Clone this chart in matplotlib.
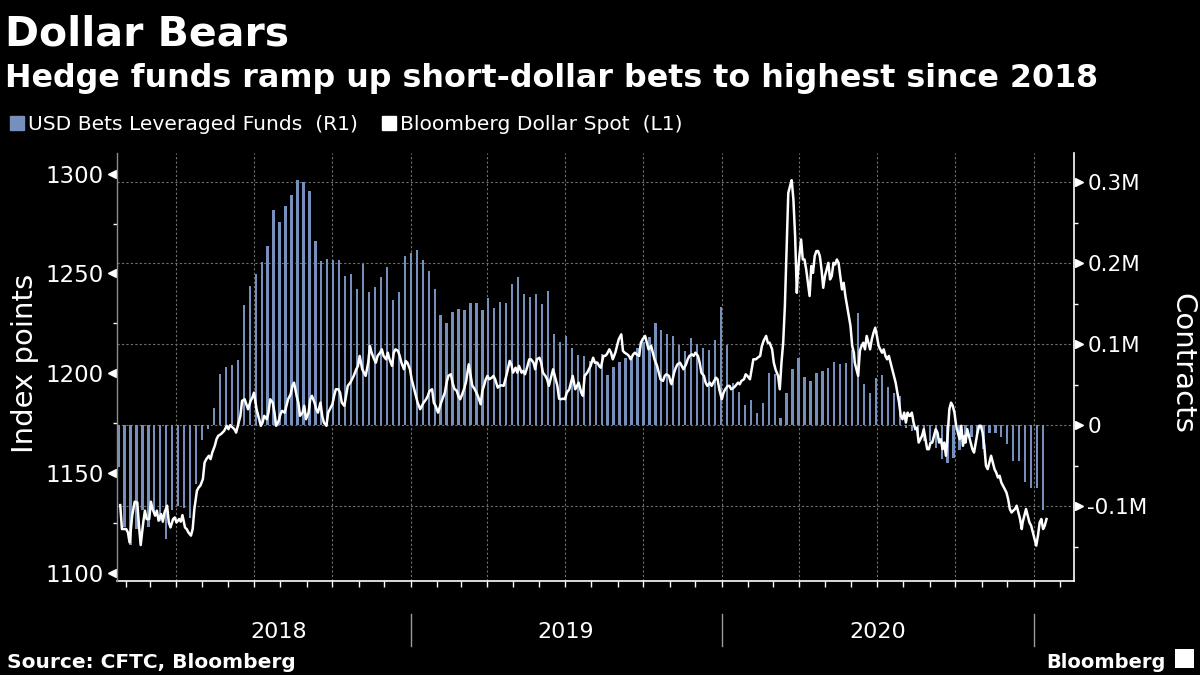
import pandas as pd
import matplotlib
matplotlib.use("Agg")
import matplotlib.pyplot as plt
import matplotlib.dates as mdates
from matplotlib.transforms import blended_transform_factory
from matplotlib.lines import Line2D
from matplotlib.patches import Rectangle

# Weekly CFTC net USD position of leveraged funds (thousands of contracts),
# first report 2018-01-23, then every Tuesday
bet_start = "2018-01-23"
usd_bets_k = [
    -52, -125, -148, -128, -105, -125, -110, -118, -140, -105,
    -100, -102, -115, -72, -18, -4, 21, 63, 72, 74,
    81, 149, 172, 187, 202, 221, 266, 251, 271, 284,
    303, 301, 289, 228, 203, 205, 204, 204, 184, 187,
    168, 199, 165, 171, 183, 195, 155, 165, 209, 213,
    216, 204, 190, 168, 136, 126, 140, 144, 142, 151,
    151, 142, 157, 145, 152, 151, 174, 183, 162, 158,
    162, 150, 166, 113, 103, 110, 95, 87, 86, 80,
    80, 88, 62, 72, 78, 83, 86, 95, 103, 109,
    126, 118, 113, 110, 99, 92, 108, 100, 95, 93,
    105, 146, 99, 52, 41, 25, 31, 15, 28, 65,
    63, 9, 40, 70, 83, 60, 55, 65, 67, 71,
    78, 76, 77, 93, 139, 51, 40, 58, 62, 47,
    40, 36, -3, -7, -12, -19, -19, -28, -42, -47,
    -40, -30, -18, -14, -10, -29, -9, -10, -15, -23,
    -44, -44, -70, -78, -77, -104,
]

# Bloomberg Dollar Spot index:
# day number counted from 2018-01-01, and index level
spot_day = [
    24, 26, 31, 33, 35, 38, 41, 44, 46, 48, 51, 53, 55, 58, 60, 62, 65, 67, 69, 72,
    74, 76, 79, 81, 83, 86, 88, 90, 93, 95, 97, 100, 102, 104, 107, 109, 111, 114, 116, 118,
    121, 123, 125, 128, 130, 132, 135, 137, 139, 142, 144, 146, 149, 151, 153, 156, 158, 160, 163, 165,
    167, 170, 172, 174, 177, 179, 181, 184, 186, 189, 191, 193, 196, 198, 200, 203, 205, 207, 210, 212,
    214, 217, 219, 221, 224, 226, 228, 231, 233, 235, 238, 240, 242, 245, 247, 249, 252, 254, 256, 259,
    261, 263, 266, 268, 270, 273, 275, 277, 280, 282, 284, 287, 289, 291, 294, 296, 298, 301, 303, 305,
    308, 310, 312, 315, 317, 319, 322, 324, 326, 329, 331, 333, 336, 338, 340, 343, 345, 347, 350, 352,
    354, 357, 359, 361, 364, 366, 368, 371, 373, 376, 378, 380, 383, 385, 387, 390, 392, 394, 397,
    400, 402, 405, 407, 409, 412, 414, 416, 419, 421, 423, 426, 428, 430, 433, 435, 437, 440, 442, 444,
    447, 449, 451,
    453, 455, 457, 460, 462, 464, 467, 469, 471, 474, 476, 478, 481, 483, 485, 488, 490, 492, 495, 497,
    499, 502, 504, 506, 509, 511, 513, 516, 518, 520, 523, 525, 527, 530, 532, 534, 537, 539, 541, 544,
    546, 548, 551, 553, 555, 558, 560, 562, 565, 567, 569, 572, 574, 576, 579, 581, 584, 586, 588, 591,
    593, 595, 598, 600, 602, 605, 607, 609, 612, 614, 616, 619, 621, 623, 626, 628, 630, 633, 635, 637,
    640, 642, 644, 647, 649, 651, 654, 656, 658, 661, 663, 665, 668, 670,
    671, 674, 676, 678, 681, 683, 685, 688, 690, 692, 695, 697, 699, 702, 704, 706, 709, 711, 713, 716,
    718, 720, 723, 725, 727, 730, 732,
    734, 737, 739, 741, 744, 746, 749, 751, 753, 756, 758, 760, 763, 765, 767, 770, 772, 775, 777, 779,
    782, 784, 786, 789, 791, 793, 796, 798,
    800, 802, 804, 806, 808, 810, 812, 814, 816, 818, 819, 821, 823, 825, 827, 829, 831, 833, 835, 837,
    839, 841, 843, 845, 847, 849, 851, 853, 855, 857, 859, 861, 863, 865, 867, 869, 871, 873, 875, 877,
    879, 881, 883, 885, 886, 888, 890, 892, 894, 896, 898, 900, 902, 904, 906, 908, 910, 912, 914, 916,
    918, 920, 922, 924, 926, 928, 930, 932, 934, 936, 938, 940, 942, 944, 946, 948, 950, 951, 953, 955,
    957, 959, 961, 963, 965, 967, 969, 971, 973, 975, 977, 979, 981, 983, 985, 987, 989, 991, 993, 995,
    997, 999, 1001, 1003, 1005, 1007, 1009, 1011, 1013, 1015, 1016, 1018, 1020, 1022, 1024, 1026, 1028, 1030, 1032, 1034,
    1036, 1038, 1040, 1042, 1044, 1046, 1048, 1050, 1052, 1054, 1056, 1058, 1060, 1062, 1064, 1066, 1068, 1070, 1072, 1074,
    1076, 1078, 1080, 1082, 1083, 1085, 1087, 1089, 1091, 1093, 1095, 1097, 1099, 1101, 1103, 1105, 1107, 1109, 1111,
]
spot_level = [
    1134.0, 1122.0, 1122.0, 1120.3, 1115.3, 1128.7, 1135.7, 1135.3, 1123.7, 1114.0,
    1125.3, 1131.2, 1127.0, 1127.0, 1135.7, 1132.0, 1128.7, 1131.2, 1126.2, 1129.5,
    1125.7, 1130.3, 1133.7, 1125.3, 1122.8, 1127.0, 1127.8, 1125.3, 1127.0, 1125.7,
    1129.0, 1122.8, 1122.0, 1120.3, 1118.7, 1122.0, 1132.0, 1141.2, 1142.8, 1143.7,
    1147.0, 1155.3, 1157.0, 1158.7, 1157.0, 1160.3, 1163.7, 1167.0, 1168.7, 1169.5,
    1170.3, 1171.2, 1173.7, 1172.0, 1174.0, 1172.8, 1172.0, 1170.3, 1175.3, 1178.7,
    1186.2, 1187.0, 1184.5, 1182.0, 1186.2, 1187.8, 1190.3, 1182.0, 1178.7, 1173.7,
    1175.3, 1178.7, 1177.0, 1180.3, 1187.0, 1185.3, 1180.3, 1173.7, 1176.2, 1179.5,
    1181.2, 1180.3, 1183.7, 1187.0, 1189.5, 1193.7, 1195.3, 1188.7, 1185.3, 1178.7,
    1180.3, 1183.7, 1177.0, 1180.3, 1187.0, 1188.7, 1185.3, 1182.0, 1180.3, 1185.3,
    1178.7, 1175.3, 1173.7, 1180.3, 1182.0, 1184.5, 1188.7, 1192.0, 1192.0, 1190.3,
    1185.3, 1183.7, 1188.7, 1193.7, 1195.3, 1197.0, 1198.7, 1202.0, 1203.7, 1208.7,
    1202.0, 1200.3, 1198.7, 1205.3, 1213.7, 1210.3, 1207.0, 1205.3, 1208.7, 1210.3,
    1212.0, 1208.7, 1207.0, 1210.3, 1207.0, 1203.7, 1210.3, 1212.0, 1211.2, 1208.7,
    1205.3, 1202.0, 1206.2, 1205.3, 1202.0, 1197.0, 1193.7, 1188.7, 1185.3, 1182.0,
    1183.7, 1185.3, 1187.0, 1188.7, 1191.2, 1192.0, 1185.3, 1183.7, 1180.3,
    1184.5, 1187.0, 1190.3, 1195.3, 1198.7, 1199.5, 1195.3, 1192.3, 1191.2, 1188.3,
    1187.0, 1190.3, 1192.8, 1196.2, 1204.5, 1199.5, 1194.0, 1192.0, 1190.3, 1188.3,
    1184.5, 1191.2, 1194.0,
    1197.0, 1198.7, 1197.0, 1197.8, 1198.7, 1197.0, 1192.8, 1193.7, 1194.0, 1193.7,
    1197.0, 1200.3, 1206.2, 1204.5, 1200.3, 1202.8, 1200.3, 1203.7, 1200.3, 1201.2,
    1199.5, 1203.7, 1207.0, 1207.0, 1205.3, 1202.0, 1207.0, 1207.8, 1205.3, 1200.3,
    1198.7, 1197.0, 1193.7, 1198.7, 1202.0, 1198.7, 1193.7, 1187.3, 1187.0, 1187.3,
    1187.0, 1190.3, 1192.0, 1195.3, 1198.7, 1192.0, 1193.7, 1195.3, 1190.3, 1188.7,
    1198.7, 1200.3, 1202.0, 1203.7, 1207.8, 1205.3, 1205.3, 1203.7, 1202.8, 1208.7,
    1208.7, 1209.5, 1212.0, 1210.3, 1207.0, 1210.3, 1213.7, 1217.0, 1219.5, 1211.2,
    1210.3, 1209.5, 1208.7, 1207.0, 1209.5, 1210.3, 1209.5, 1208.7, 1215.3, 1217.0,
    1218.7, 1215.3, 1212.0, 1213.7, 1210.3, 1207.0, 1203.7, 1200.3, 1197.0, 1196.2,
    1198.7, 1199.5, 1198.7, 1195.3,
    1194.5, 1200.3, 1202.8, 1204.5, 1205.3, 1203.7, 1202.0, 1204.5, 1207.0, 1208.7,
    1209.5, 1208.7, 1210.3, 1208.7, 1205.3, 1200.3, 1198.7, 1195.3, 1193.7, 1195.3,
    1193.7, 1195.3, 1197.8, 1197.0, 1192.0, 1187.0, 1190.3,
    1192.0, 1193.7, 1193.7, 1192.0, 1192.8, 1193.7, 1195.3, 1194.5, 1196.2, 1197.0,
    1199.5, 1198.7, 1197.0, 1202.0, 1207.0, 1207.0, 1207.8, 1208.7, 1213.7, 1216.2,
    1218.7, 1215.3, 1215.3, 1212.0, 1205.3, 1202.0, 1198.7, 1192.0,
    1205.3, 1215.3, 1233.7, 1262.0, 1290.3, 1293.7, 1296.7, 1287.0, 1268.7, 1240.3,
    1248.7, 1258.7, 1267.0, 1257.0, 1257.0, 1252.0, 1245.3, 1238.7, 1253.7, 1250.3,
    1258.7, 1261.2, 1261.2, 1258.7, 1252.0, 1242.8, 1248.7, 1252.0, 1255.3, 1247.0,
    1248.7, 1255.3, 1254.5, 1257.0, 1255.3, 1248.7, 1242.0, 1245.3, 1238.7, 1233.7,
    1228.7, 1223.7, 1213.7, 1210.3, 1205.3, 1202.0, 1198.7, 1211.3, 1213.7, 1215.3,
    1212.0, 1218.7, 1215.3, 1212.0, 1217.0, 1220.3, 1222.8, 1218.7, 1213.7, 1212.0,
    1210.3, 1212.0, 1208.7, 1207.0, 1208.7, 1205.3, 1202.0, 1198.7, 1195.3, 1190.3,
    1185.3, 1178.7, 1177.0, 1180.3, 1175.3, 1180.3, 1178.7, 1178.7, 1180.3, 1175.3,
    1172.0, 1172.8, 1165.3, 1167.0, 1168.7, 1172.0, 1167.0, 1162.0, 1162.0, 1165.3,
    1165.3, 1168.7, 1172.0, 1170.3, 1165.3, 1167.0, 1162.0, 1165.3, 1158.7, 1168.7,
    1182.0, 1185.3, 1183.7, 1180.3, 1173.7, 1170.3, 1167.0, 1173.7, 1163.7, 1168.7,
    1165.3, 1172.0, 1168.7, 1165.3, 1162.0, 1160.3, 1165.3, 1170.3, 1173.7, 1173.7,
    1170.3, 1163.7, 1153.7, 1152.0, 1155.3, 1158.7, 1155.3, 1152.0, 1150.3, 1147.8,
    1148.7, 1145.3, 1143.7, 1142.0, 1140.3, 1137.0, 1132.0, 1130.3, 1131.2, 1132.0,
    1133.7, 1130.3, 1127.0, 1122.0, 1125.3, 1128.7, 1132.0, 1128.7, 1125.3, 1123.7,
    1120.3, 1117.0, 1113.7, 1118.7, 1125.3, 1127.0, 1122.0, 1123.7, 1127.0,
]

year_labels = ["2018", "2019", "2020"]
year_label_dates = ["2018-07-30", "2019-07-02", "2020-07-02"]
year_breaks = ["2019-01-01", "2020-01-01", "2021-01-01"]
left_ticks = [1100, 1150, 1200, 1250, 1300]
right_ticks = [-100, 0, 100, 200, 300]
right_labels = ["-0.1M", "0", "0.1M", "0.2M", "0.3M"]

BG = "black"
BAR = "#7690bb"
GRID = "#707070"

plt.rcParams["font.family"] = ["DejaVu Sans"]

bet_dates = pd.date_range(bet_start, periods=len(usd_bets_k), freq="7D")
spot_dates = pd.Timestamp("2018-01-01") + pd.to_timedelta(spot_day, unit="D")

fig = plt.figure(figsize=(12, 6.75), dpi=100, facecolor=BG)
axr = fig.add_axes([0.0975, 0.1393, 0.7975, 0.634])
axr.set_facecolor(BG)
axl = axr.twinx()
axr.yaxis.tick_right()
axl.yaxis.tick_left()

# bars: right axis
axr.bar(bet_dates, usd_bets_k, width=2.7, color=BAR, zorder=2)
axr.set_ylim(-192.2, 336.2)
axr.set_yticks(right_ticks)
axr.set_yticklabels(right_labels)
axr.yaxis.set_minor_locator(plt.MultipleLocator(50))
axr.set_xlim(pd.Timestamp("2018-01-21 05:00"), pd.Timestamp("2021-02-17 07:00"))

# line: left axis
axl.plot(spot_dates, spot_level, color="white", lw=1.8, zorder=3)
axl.set_ylim(1096, 1310.3)
axl.set_yticks(left_ticks)
axl.yaxis.set_minor_locator(plt.MultipleLocator(25))

# grid
axr.set_axisbelow(True)
axr.grid(True, which="major", color=GRID, lw=0.8, ls=(0, (2, 2)))
axr.xaxis.set_major_locator(mdates.MonthLocator(bymonth=[1, 4, 7, 10]))
axr.xaxis.set_minor_locator(mdates.MonthLocator())
axr.tick_params(axis="x", which="both", length=4, width=1, color="white",
                direction="out", labelbottom=False)

axr.tick_params(axis="y", which="major", length=0, pad=9.5,
                labelsize=15.5, labelcolor="white")
axr.tick_params(axis="y", which="minor", length=3, width=1, color="white",
                direction="out")
axl.tick_params(axis="y", which="major", length=0, pad=9.5,
                labelsize=16.5, labelcolor="white")
axl.tick_params(axis="y", which="minor", length=3, width=1, color="white",
                direction="out")

for side in ["top", "left"]:
    axr.spines[side].set_visible(False)
for side in ["right", "bottom"]:
    axr.spines[side].set_color("white")
    axr.spines[side].set_linewidth(1.2)
for side in ["top", "right", "bottom"]:
    axl.spines[side].set_visible(False)
axl.spines["left"].set_color("#8c8c8c")
axl.spines["left"].set_linewidth(1)

# tick triangles
tl = blended_transform_factory(axl.transAxes, axl.transData)
axl.plot([-0.0055] * len(left_ticks), left_ticks, ls="none", marker="<",
         ms=6, color="white", transform=tl, clip_on=False)
tr = blended_transform_factory(axr.transAxes, axr.transData)
axr.plot([1.0055] * len(right_ticks), right_ticks, ls="none", marker=">",
         ms=6, color="white", transform=tr, clip_on=False)

# year labels and separators under the axis
tx = blended_transform_factory(axr.transData, axr.transAxes)
for d in year_breaks:
    x = pd.Timestamp(d)
    axr.plot([x, x], [-0.077, -0.152], color="#9a9a9a", lw=1,
             transform=tx, clip_on=False)
for lab, d in zip(year_labels, year_label_dates):
    axr.text(pd.Timestamp(d), -0.119, lab, transform=tx, ha="center",
             va="center", fontsize=16, color="white")

# axis titles
fig.text(0.021, 0.461, "Index points", rotation=90, ha="center", va="center",
         fontsize=21, color="white")
fig.text(0.985, 0.461, "Contracts", rotation=270, ha="center", va="center",
         fontsize=21, color="white")

# titles
fig.text(0.004, 0.932, "Dollar Bears", fontsize=29.5, fontweight="bold",
         color="white", va="baseline")
fig.text(0.004, 0.871, "Hedge funds ramp up short-dollar bets to highest since 2018",
         fontsize=22.9, fontweight="bold", color="white", va="baseline")

handles = [
    Line2D([], [], ls="none", marker="s", ms=9.5, color=BAR),
    Line2D([], [], ls="none", marker="s", ms=9.5, color="white"),
]
fig.legend(handles, ["USD Bets Leveraged Funds  (R1)", "Bloomberg Dollar Spot  (L1)"],
           loc="upper left", bbox_to_anchor=(0.008, 0.829), ncol=2, frameon=False,
           handlelength=0.7, handletextpad=0.2, columnspacing=1.2,
           borderaxespad=0, borderpad=0, fontsize=14.6, labelcolor="white")

# footer
fig.text(0.006, 0.011, "Source: CFTC, Bloomberg", fontsize=14.5, fontweight="bold",
         color="white", va="baseline")
fig.text(0.971, 0.011, "Bloomberg", fontsize=14, fontweight="bold",
         color="white", va="baseline", ha="right")
fig.patches.append(Rectangle((0.979, 0.010), 0.016, 0.029, transform=fig.transFigure,
                             facecolor="white", edgecolor="none"))

fig.savefig("out.png", dpi=100, facecolor=BG)
